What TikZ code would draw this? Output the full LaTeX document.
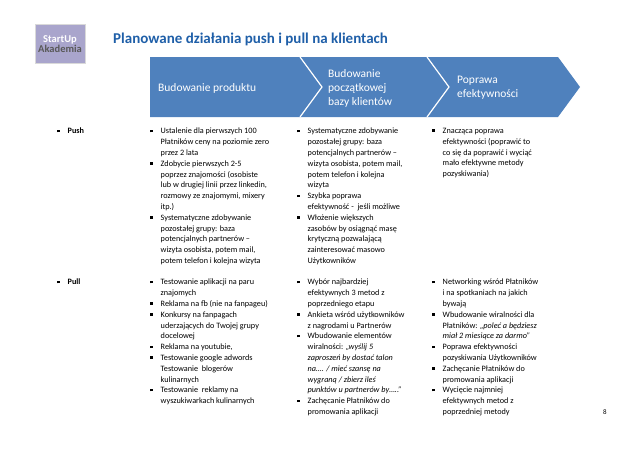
\documentclass[tikz,border=0pt]{standalone}
\usepackage{fontspec}
\setmainfont{Carlito}
\usetikzlibrary{positioning}
\definecolor{chev}{HTML}{4F81BD}
\definecolor{ttl}{HTML}{1F5FA8}
\definecolor{logo}{HTML}{A9A5CC}
\newcommand\bi{\makebox[10.5pt][l]{\rule[1.6pt]{2.6pt}{2.6pt}}}
\newcommand\ct{\hspace*{10.5pt}}
\tikzset{
 cell/.style={anchor=north west, inner sep=0pt, align=left, font=\fontsize{8.2}{10.8}\selectfont},
 chevtxt/.style={text=white, font=\fontsize{11.5}{14}\selectfont, align=left, anchor=west, inner sep=0pt},
}
\begin{document}
\begin{tikzpicture}[x=1pt,y=-1pt]
\useasboundingbox (0,0) rectangle (638,451);
% logo
\node[fill=logo, draw=black!15, minimum width=50pt, minimum height=39pt, inner sep=0pt, align=center,
  font=\bfseries\fontsize{10.5}{10}\selectfont] (logo) at (60,44) {\textcolor{white}{StartUp}\\\textcolor{black!65}{Akademia}};
\node[anchor=west, text=ttl, font=\bfseries\fontsize{15}{18}\selectfont, inner sep=0pt] (title) at (113,39) {Planowane działania push i pull na klientach};
% chevrons
\fill[chev] (150,57) -- (300,57) -- (322,87) -- (300,117) -- (150,117) -- cycle;
\fill[chev] (300,57) -- (427,57) -- (449,87) -- (427,117) -- (300,117) -- (322,87) -- cycle;
\fill[chev] (427,57) -- (558,57) -- (580,87) -- (558,117) -- (427,117) -- (449,87) -- cycle;
\draw[white, line width=1.2pt] (300,57) -- (322,87) -- (300,117);
\draw[white, line width=1.2pt] (427,57) -- (449,87) -- (427,117);
\node[chevtxt] (c1) at (158,88) {Budowanie produktu};
\node[chevtxt] (c2) at (328,88) {Budowanie\\początkowej\\bazy klientów};
\node[chevtxt] (c3) at (457,88) {Poprawa\\efektywności};
% row labels
\node[cell, font=\bfseries\fontsize{8.2}{10.8}\selectfont] (push) at (57,128) {\bi Push};
\node[cell, font=\bfseries\fontsize{8.2}{10.8}\selectfont] (pull) at (57,279) {\bi Pull};
% push row
\node[cell] (p1) at (150,128) {\bi Ustalenie dla pierwszych 100\\\ct Płatników ceny na poziomie zero\\\ct przez 2 lata\\\bi Zdobycie pierwszych 2-5\\\ct poprzez znajomości (osobiste\\\ct lub w drugiej linii przez linkedin,\\\ct rozmowy ze znajomymi, mixery\\\ct itp.)\\\bi Systematyczne zdobywanie\\\ct pozostałej grupy: baza\\\ct potencjalnych partnerów –\\\ct wizyta osobista, potem mail,\\\ct potem telefon i kolejna wizyta};
\node[cell] (p2) at (297,128) {\bi Systematyczne zdobywanie\\\ct pozostałej grupy: baza\\\ct potencjalnych partnerów –\\\ct wizyta osobista, potem mail,\\\ct potem telefon i kolejna\\\ct wizyta\\\bi Szybka poprawa\\\ct efektywność -\ \ jeśli możliwe\\\bi Włożenie większych\\\ct zasobów by osiągnąć masę\\\ct krytyczną pozwalającą\\\ct zainteresować masowo\\\ct Użytkowników};
\node[cell] (p3) at (432,128) {\bi Znacząca poprawa\\\ct efektywności (poprawić to\\\ct co się da poprawić i wyciąć\\\ct mało efektywne metody\\\ct pozyskiwania)};
% pull row
\node[cell] (q1) at (150,279) {\bi Testowanie aplikacji na paru\\\ct znajomych\\\bi Reklama na fb (nie na fanpageu)\\\bi Konkursy na fanpagach\\\ct uderzających do Twojej grupy\\\ct docelowej\\\bi Reklama na youtubie,\\\bi Testowanie google adwords\\\ct Testowanie\ \ blogerów\\\ct kulinarnych\\\bi Testowanie\ \ reklamy na\\\ct wyszukiwarkach kulinarnych};
\node[cell] (q2) at (297,279) {\bi Wybór najbardziej\\\ct efektywnych 3 metod z\\\ct poprzedniego etapu\\\bi Ankieta wśród użytkowników\\\ct z nagrodami u Partnerów\\\bi Wbudowanie elementów\\\ct wiralności: \textit{„wyślij 5}\\\ct \textit{zaproszeń by dostać talon}\\\ct \textit{na…. / mieć szansę na}\\\ct \textit{wygraną / zbierz ileś}\\\ct \textit{punktów u partnerów by…..”}\\\bi Zachęcanie Płatników do\\\ct promowania aplikacji};
\node[cell] (q3) at (432,279) {\bi Networking wśród Płatników\\\ct i na spotkaniach na jakich\\\ct bywają\\\bi Wbudowanie wiralności dla\\\ct Płatników: \textit{„poleć a będziesz}\\\ct \textit{miał 2 miesiące za darmo”}\\\bi Poprawa efektywności\\\ct pozyskiwania Użytkowników\\\bi Zachęcanie Płatników do\\\ct promowania aplikacji\\\bi Wycięcie najmniej\\\ct efektywnych metod z\\\ct poprzedniej metody};
\node[font=\fontsize{7}{8}\selectfont, inner sep=0pt] (pg) at (605,412) {8};
\end{tikzpicture}
\end{document}
